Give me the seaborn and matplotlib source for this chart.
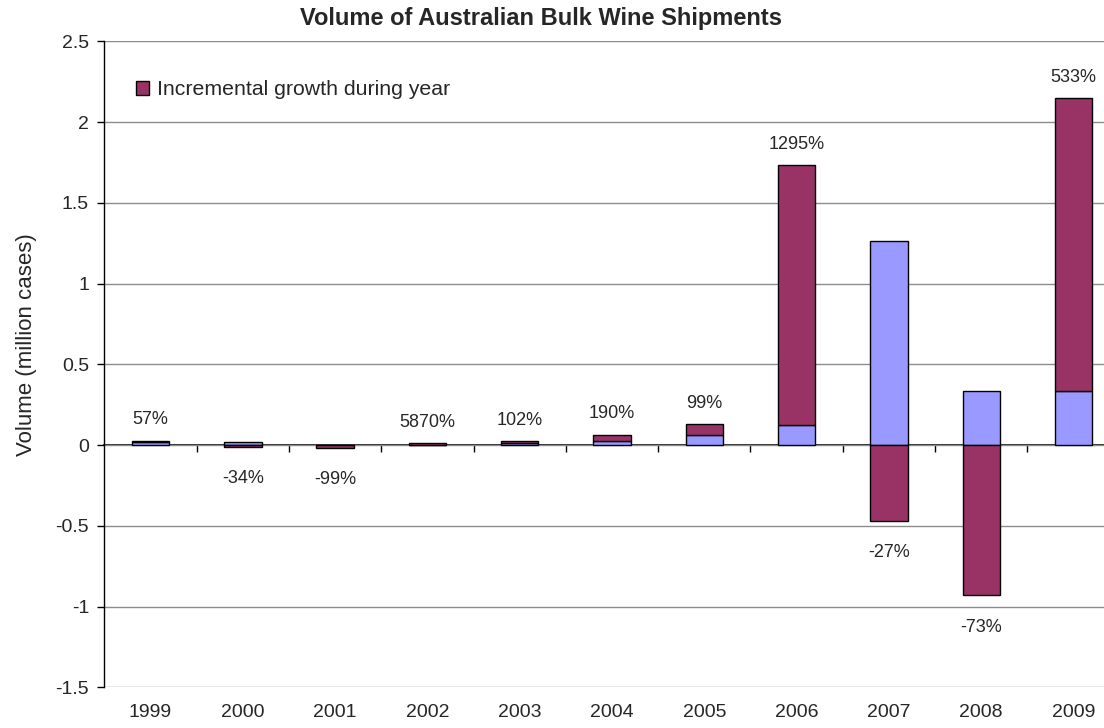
import numpy as np
import pandas as pd
import matplotlib
matplotlib.use("Agg")
import matplotlib.pyplot as plt
import seaborn as sns

# Bulk wine shipments, million cases
years = ["1999", "2000", "2001", "2002", "2003", "2004", "2005", "2006", "2007", "2008", "2009"]
volume = [0.027, 0.018, 0.0002, 0.012, 0.023, 0.065, 0.129, 1.733, 1.265, 0.336, 2.149]
prior_volume = [0.017, 0.027, 0.018, 0.0002, 0.012, 0.023, 0.065, 0.124, 1.733, 1.265, 0.336]
growth_labels = ["57%", "-34%", "-99%", "5870%", "102%", "190%", "99%", "1295%", "-27%", "-73%", "533%"]

y_ticks = [-1.5, -1, -0.5, 0, 0.5, 1, 1.5, 2, 2.5]
y_tick_labels = ["-1.5", "-1", "-0.5", "0", "0.5", "1", "1.5", "2", "2.5"]

BASE = "#9999FF"
GROWTH = "#993366"

sns.set_theme(style="white")
plt.rcParams["font.family"] = ["Liberation Sans", "DejaVu Sans"]

vol = np.array(volume)
prev = np.array(prior_volume)
change = vol - prev
df = pd.DataFrame({
    "year": years,
    "base": np.minimum(vol, prev),
    "change": change,
    "bottom": np.where(change > 0, prev, 0.0),
})

fig = plt.figure(figsize=(11.04, 7.28), dpi=100)
ax = fig.add_axes([104.4 / 1104, 1 - 687.4 / 728, 1 - 104.4 / 1104, (687.4 - 41.3) / 728])

bar_kw = dict(width=0.405, edgecolor="black", linewidth=1.0, saturation=1)
sns.barplot(data=df, x="year", y="base", order=years, color=BASE, ax=ax, **bar_kw)
sns.barplot(data=df, x="year", y="change", order=years, color=GROWTH, ax=ax,
            bottom=df["bottom"].values, label="Incremental growth during year", **bar_kw)

ax.set_ylim(-1.5, 2.5)
ax.set_xlim(-0.5, 10.33)
ax.set_yticks(y_ticks)
ax.set_yticklabels(y_tick_labels)
ax.yaxis.grid(True, color="#8c8c8c", linewidth=1.0)
ax.set_axisbelow(True)

for s in ["top", "right", "bottom"]:
    ax.spines[s].set_visible(False)
ax.spines["left"].set_color("black")
ax.spines["left"].set_linewidth(1.0)

ax.tick_params(axis="y", left=True, length=5, width=1, color="black", labelsize=14, pad=6)
ax.tick_params(axis="x", bottom=False, length=0, labelsize=14, pad=12)
ax.set_xlabel("")
ax.set_ylabel("Volume (million cases)", fontsize=16)
ax.yaxis.set_label_coords(-0.0674, 0.531)

# Zero axis with ticks between the categories
zero_frac = 1.5 / 4.0
zax = ax.secondary_xaxis(zero_frac)
zax.set_xticks(np.arange(0.5, 10.5, 1.0))
zax.set_xticklabels([])
zax.tick_params(axis="x", direction="out", length=5, width=1, color="black")
zax.spines["bottom"].set_color("black")
zax.spines["bottom"].set_linewidth(1.2)

# Growth labels
for i, (v, c, lab) in enumerate(zip(vol, change, growth_labels)):
    if c >= 0:
        ax.annotate(lab, (i, v), xytext=(0, 15), textcoords="offset points",
                    ha="center", va="center", fontsize=13)
    else:
        ax.annotate(lab, (i, c), xytext=(0, -23), textcoords="offset points",
                    ha="center", va="center", fontsize=13)

leg = ax.legend(loc="center left", bbox_to_anchor=(0.032, 0.925), frameon=False,
                fontsize=15.3, handlelength=0.6, handleheight=0.6, handletextpad=0.35,
                borderaxespad=0, borderpad=0)

fig.text(541 / 1104, 1 - 18 / 728, "Volume of Australian Bulk Wine Shipments",
         ha="center", va="center", fontsize=17, fontweight="bold")

fig.savefig("out.png", dpi=100)
